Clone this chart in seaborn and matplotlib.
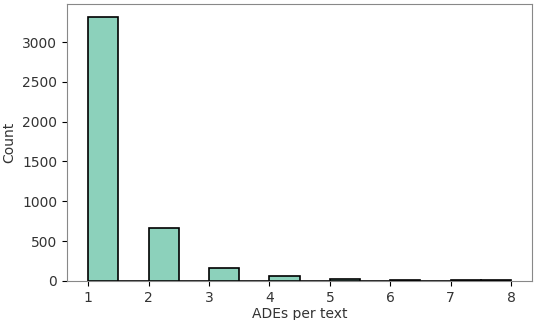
import seaborn as sns
import matplotlib.pyplot as plt
import pandas as pd

# ADEs per text -> number of texts
ades_values = [1, 2, 3, 4, 5, 6, 7, 8]
text_counts = [3310, 665, 165, 65, 30, 12, 8, 6]

data = pd.DataFrame({'ADEs per text': ades_values, 'n': text_counts})

plt.rcParams['font.size'] = 10
for key in ['text.color', 'axes.labelcolor', 'xtick.labelcolor', 'ytick.labelcolor']:
    plt.rcParams[key] = '#333333'

fig = plt.figure(figsize=(5.36, 3.2), dpi=100)
ax = fig.add_axes([0.125, 0.122, 0.868, 0.865])

sns.histplot(data=data, x='ADEs per text', weights='n', bins=14,
             color=sns.color_palette('Set2')[0], edgecolor='black',
             linewidth=1.2, alpha=0.75, ax=ax)

ax.set_ylabel('Count')
ax.xaxis.labelpad = 2
for s in ax.spines.values():
    s.set_color('#888888')

fig.savefig('out.png', dpi=100)
